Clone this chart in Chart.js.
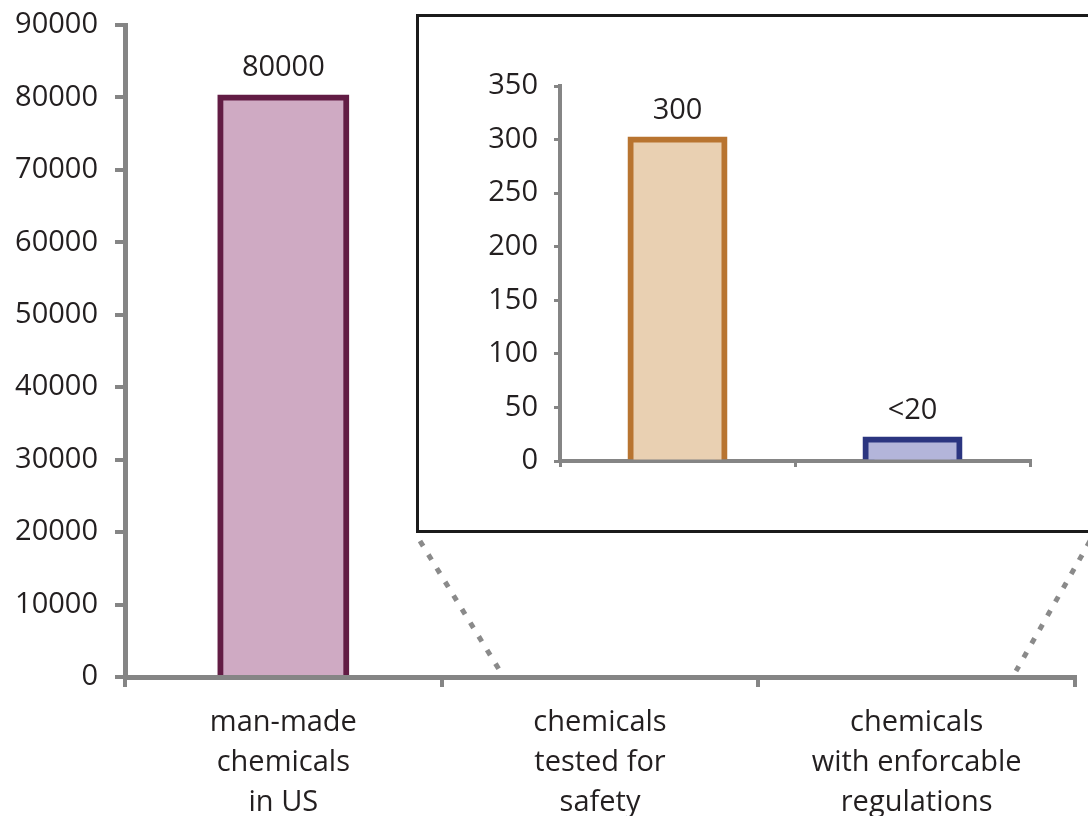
<!DOCTYPE html>
<html><head><meta charset="utf-8">
<script src="https://cdn.jsdelivr.net/npm/chart.js@4"></script>
<style>
html,body{margin:0;padding:0;background:#fff;overflow:hidden;width:1088px;height:816px}
#main{position:absolute;left:0;top:0}
#box{position:absolute;left:416px;top:14px;width:700px;height:519px;border:3px solid #1b1b1b;box-sizing:border-box;background:#fff}
#inset{position:absolute;left:0;top:0}
</style></head><body>
<canvas id="main" width="1088" height="816"></canvas>
<div id="box"><canvas id="inset" width="694" height="513"></canvas></div>
<script>
// ---- data ----
const categories = [['man-made','chemicals','in US'], ['chemicals','tested for','safety'], ['chemicals','with enforcable','regulations']];
const mainValues = [80000, null, null];
const mainValueLabels = ['80000', '', ''];
const mainTickMin = 0, mainTickMax = 90000, mainTickStep = 10000;

const insetCategories = ['chemicals tested for safety', 'chemicals with enforcable regulations'];
const insetValues = [300, 20];
const insetValueLabels = ['300', '<20'];
const insetTickMin = 0, insetTickMax = 350, insetTickStep = 50;

// ---- style ----
const FONT_FAMILY = "'Open Sans', 'Noto Sans', sans-serif";
const TEXT = '#231f20';
const AXIS = '#858585';

const valueLabelPlugin = {
  id: 'valueLabels',
  afterDatasetsDraw(chart, args, opts) {
    const ctx = chart.ctx;
    const meta = chart.getDatasetMeta(0);
    ctx.save();
    ctx.font = opts.size + 'px ' + FONT_FAMILY;
    ctx.fillStyle = TEXT;
    ctx.textAlign = 'center';
    ctx.textBaseline = 'middle';
    meta.data.forEach((bar, i) => {
      const t = opts.labels[i];
      if (!t) return;
      ctx.fillText(t, bar.x, bar.y - opts.offset);
    });
    ctx.restore();
  }
};

const zoomLinesPlugin = {
  id: 'zoomLines',
  afterDraw(chart) {
    const ctx = chart.ctx;
    const a = chart.chartArea;
    ctx.save();
    ctx.strokeStyle = '#8a8a8a';
    ctx.lineWidth = 5;
    ctx.setLineDash([6, 10]);
    ctx.beginPath();
    ctx.moveTo(420, 541); ctx.lineTo(500, a.bottom - 6);
    ctx.moveTo(1090, 541); ctx.lineTo(1016, a.bottom - 6);
    ctx.stroke();
    ctx.restore();
  }
};

Chart.register(valueLabelPlugin);

new Chart(document.getElementById('main'), {
  type: 'bar',
  data: {
    labels: categories,
    datasets: [{
      data: mainValues,
      backgroundColor: '#cfaac3',
      borderColor: '#621c44',
      borderWidth: 6,
      inflateAmount: 3,
      barPercentage: 0.398,
      categoryPercentage: 1
    }]
  },
  options: {
    responsive: false,
    animation: false,
    devicePixelRatio: 1,
    layout: { padding: { top: 25, right: 13, left: 0, bottom: 0 } },
    plugins: {
      legend: { display: false },
      tooltip: { enabled: false },
      valueLabels: { labels: mainValueLabels, offset: 30, size: 29 }
    },
    scales: {
      x: {
        z: 1,
        grid: { display: true, drawOnChartArea: false, drawTicks: true, tickLength: 10, color: AXIS, lineWidth: 4, offset: true },
        border: { display: true, color: AXIS, width: 5 },
        ticks: { color: TEXT, font: { family: FONT_FAMILY, size: 29, lineHeight: 1.38 }, padding: 16, maxRotation: 0, autoSkip: false },
        afterFit(s) { s.height = 139; s.paddingLeft = 0; s.paddingRight = 0; }
      },
      y: {
        min: mainTickMin, max: mainTickMax,
        grid: { display: true, drawOnChartArea: false, drawTicks: true, tickLength: 10, color: AXIS, lineWidth: 4 },
        border: { display: true, color: AXIS, width: 5 },
        ticks: { stepSize: mainTickStep, color: TEXT, font: { family: FONT_FAMILY, size: 29 }, padding: 17, callback: v => String(v) },
        afterFit(s) { s.width = 125; s.paddingTop = 0; s.paddingBottom = 0; }
      }
    }
  },
  plugins: [zoomLinesPlugin]
});

new Chart(document.getElementById('inset'), {
  type: 'bar',
  data: {
    labels: insetCategories,
    datasets: [{
      data: insetValues,
      backgroundColor: ['#e9d0b2', '#b3b5da'],
      borderColor: ['#b87430', '#2b3580'],
      borderWidth: 6,
      inflateAmount: 3,
      barPercentage: 0.40,
      categoryPercentage: 1
    }]
  },
  options: {
    responsive: false,
    animation: false,
    devicePixelRatio: 1,
    layout: { padding: { top: 69, right: 83, left: 0, bottom: 0 } },
    plugins: {
      legend: { display: false },
      tooltip: { enabled: false },
      valueLabels: { labels: insetValueLabels, offset: 29, size: 29 }
    },
    scales: {
      x: {
        z: 1,
        grid: { display: true, drawOnChartArea: false, drawTicks: true, tickLength: 6, color: AXIS, lineWidth: 3, offset: true },
        border: { display: true, color: AXIS, width: 4 },
        ticks: { display: false },
        afterFit(s) { s.height = 69; s.paddingLeft = 0; s.paddingRight = 0; }
      },
      y: {
        min: insetTickMin, max: insetTickMax,
        grid: { display: true, drawOnChartArea: false, drawTicks: true, tickLength: 6, color: AXIS, lineWidth: 3 },
        border: { display: true, color: AXIS, width: 4 },
        ticks: { stepSize: insetTickStep, color: TEXT, font: { family: FONT_FAMILY, size: 29 }, padding: 16, callback: v => String(v) },
        afterFit(s) { s.width = 141; s.paddingTop = 0; s.paddingBottom = 0; }
      }
    }
  }
});
</script>
</body></html>
